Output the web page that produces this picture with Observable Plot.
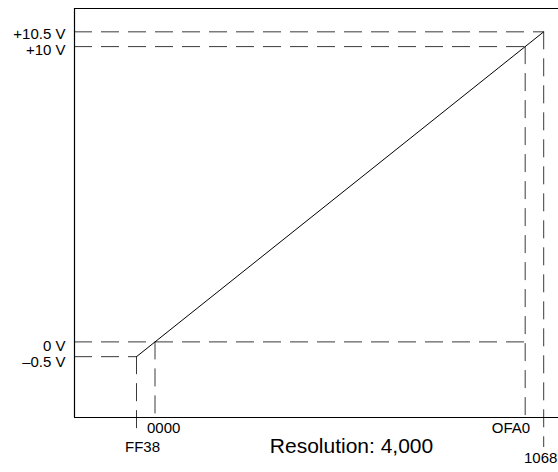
<!DOCTYPE html>
<html>
<head>
<meta charset="utf-8">
<script src="https://cdn.jsdelivr.net/npm/d3@7"></script>
<script src="https://cdn.jsdelivr.net/npm/@observablehq/plot@0.6"></script>
<style>
  html, body { margin: 0; padding: 0; background: #fff; }
  #chart { width: 558px; height: 472px; }
</style>
</head>
<body>
<div id="chart"></div>
<script>
// Data (signed 16-bit codes and output voltages)
const codeValues = [-200, 0, 4000, 4200];
const codeLabels = ["FF38", "0000", "OFA0", "1068"];
const voltValues = [-0.5, 0, 10, 10.5];
const voltLabels = ["\u20130.5 V", "0 V", "+10 V", "+10.5 V"];
// which code each voltage level's dashed line runs to
const levelCodes = [-200, 4000, 4000, 4200];
// which voltage each code's dashed line starts at
const codeLevels = [-0.5, 0, 10, 10.5];
const resolutionText = "Resolution: 4,000";
const xDomain = [-870, 4360];
const yDomain = [-2.56, 11.29];

const levels = voltValues.map((v, i) => ({v, x1: xDomain[0], x2: levelCodes[i]}));
const codes = codeValues.map((c, i) => ({c, y1: codeLevels[i], y2: yDomain[0], label: codeLabels[i]}));
const transfer = [
  {x: codeValues[0], y: voltValues[0]},
  {x: codeValues[3], y: voltValues[3]}
];
const byLabel = (l) => codes.filter(d => d.label === l);
const voltLabel = (d) => voltLabels[voltValues.indexOf(d)];

const dash = {stroke: "#3a3a3a", strokeWidth: 1, strokeDasharray: "18,9"};
const yAxisOpts = {tickFormat: voltLabel, tickSize: 0, tickPadding: 9, fontSize: 15, fill: "#000"};
const xText = {x: "c", text: "label", frameAnchor: "bottom", fill: "#000", fontSize: 15};

const chart = Plot.plot({
  width: 558,
  height: 472,
  marginLeft: 74,
  marginRight: 0,
  marginTop: 8,
  marginBottom: 55,
  style: {fontFamily: "Helvetica, Arial, 'Liberation Sans', sans-serif", fontSize: "15px", color: "#000", background: "#fff"},
  x: {domain: xDomain, axis: null},
  y: {domain: yDomain, axis: null},
  marks: [
    // dashed horizontal levels
    Plot.ruleY(levels, {y: "v", x1: "x1", x2: "x2", ...dash}),
    // dashed verticals ending at the axis
    Plot.ruleX(codes.filter(d => d.label === "0000" || d.label === "OFA0"), {x: "c", y1: "y1", y2: "y2", ...dash}),
    // dashed verticals extending below the axis
    Plot.ruleX(byLabel("FF38"), {x: "c", y1: "y1", y2: "y2", insetBottom: -20, ...dash}),
    Plot.ruleX(byLabel("1068"), {x: "c", y1: "y1", y2: "y2", insetBottom: -30, ...dash}),
    // frame: left, top, bottom
    Plot.ruleX([xDomain[0]], {stroke: "#000", strokeWidth: 1.2}),
    Plot.ruleY(yDomain, {stroke: "#000", strokeWidth: 1.2}),
    // transfer line
    Plot.line(transfer, {x: "x", y: "y", stroke: "#000", strokeWidth: 1}),
    // y tick labels
    Plot.axisY([voltValues[3]], {...yAxisOpts, dy: 2}),
    Plot.axisY([voltValues[2]], {...yAxisOpts, dy: 4}),
    Plot.axisY([voltValues[1]], {...yAxisOpts, dy: 4.5}),
    Plot.axisY([voltValues[0]], {...yAxisOpts, dy: 6}),
    // x code labels
    Plot.text(byLabel("FF38"), {...xText, dx: 6, dy: 34}),
    Plot.text(byLabel("0000"), {...xText, textAnchor: "start", dx: -8, dy: 15.5}),
    Plot.text(byLabel("OFA0"), {...xText, textAnchor: "end", dx: 5, dy: 15.5}),
    Plot.text(byLabel("1068"), {...xText, dx: -3, dy: 45}),
    // resolution caption
    Plot.text([resolutionText], {frameAnchor: "bottom", dx: 35, dy: 35, fontSize: 21, fill: "#000"})
  ]
});
document.getElementById("chart").appendChild(chart);
</script>
</body>
</html>
